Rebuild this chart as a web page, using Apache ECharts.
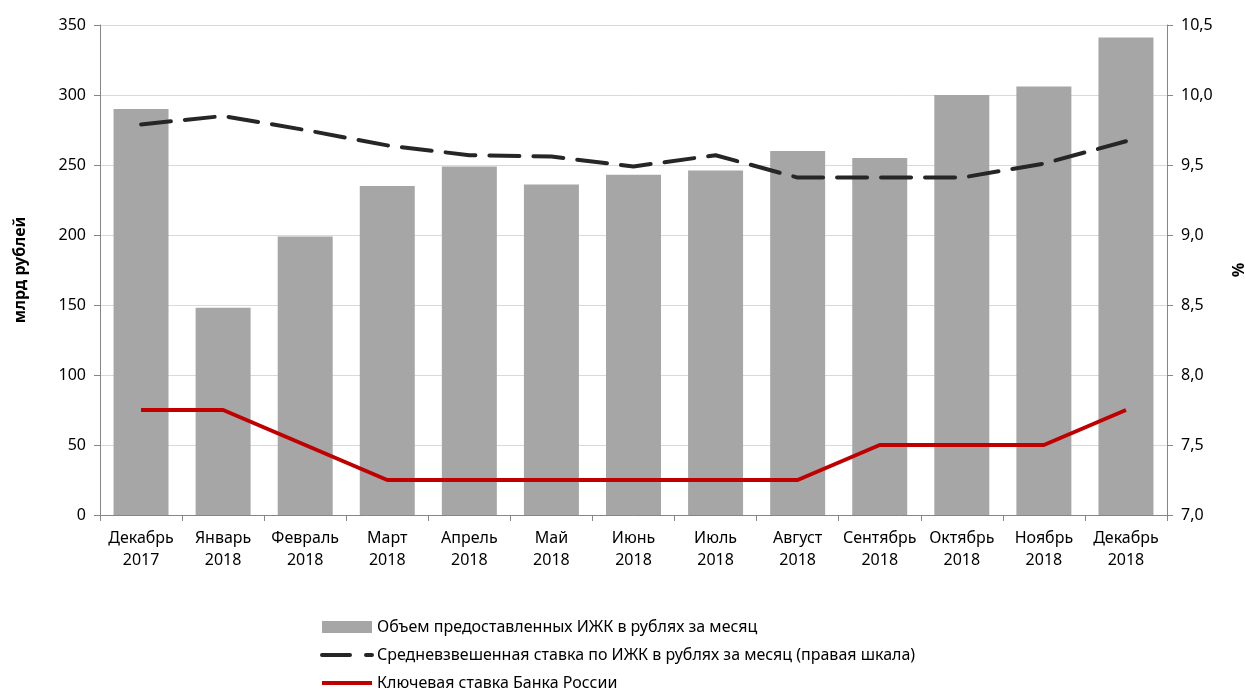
<!DOCTYPE html>
<html>
<head>
<meta charset="utf-8">
<script src="https://cdn.jsdelivr.net/npm/echarts@6/dist/echarts.min.js"></script>
<style>
  html, body { margin: 0; padding: 0; background: #fff; }
  #chart { width: 1245px; height: 689px; }
</style>
</head>
<body>
<div id="chart"></div>
<script>
// месяцы
const months = ['Декабрь\n2017', 'Январь\n2018', 'Февраль\n2018', 'Март\n2018', 'Апрель\n2018', 'Май\n2018',
  'Июнь\n2018', 'Июль\n2018', 'Август\n2018', 'Сентябрь\n2018', 'Октябрь\n2018', 'Ноябрь\n2018', 'Декабрь\n2018']
// объем ИЖК, млрд рублей
const volume = [290, 148, 199, 235, 249, 236, 243, 246, 260, 255, 300, 306, 341]
// средневзвешенная ставка, %
const avgRate = [9.79, 9.85, 9.75, 9.64, 9.57, 9.56, 9.49, 9.57, 9.41, 9.41, 9.41, 9.51, 9.67]
// ключевая ставка, %
const keyRate = [7.75, 7.75, 7.5, 7.25, 7.25, 7.25, 7.25, 7.25, 7.25, 7.5, 7.5, 7.5, 7.75]

const names = [
  'Объем предоставленных ИЖК в рублях за месяц',
  'Средневзвешенная ставка по ИЖК в рублях за месяц (правая шкала)',
  'Ключевая ставка Банка России',
]

const font = 'Noto Sans'
// прячем кружок маркера в легенде у линий
const noMarker = { color: 'rgba(0,0,0,0)', borderWidth: 0 }

const chart = echarts.init(document.getElementById('chart'))
chart.setOption({
  animation: false,
  textStyle: { fontFamily: font },
  grid: { left: 100, right: 78, top: 25, bottom: 174, outerBoundsMode: 'none', containLabel: false },
  legend: {
    orient: 'vertical',
    left: 320,
    top: 617,
    height: 100,
    padding: 0,
    itemWidth: 50,
    itemHeight: 12,
    itemGap: 8,
    textStyle: { fontFamily: font, fontSize: 16, color: '#000', lineHeight: 20 },
    data: [
      { name: names[0], icon: 'rect' },
      { name: names[1], itemStyle: noMarker, lineStyle: { width: 4, type: [28, 16], cap: 'round' } },
      { name: names[2], itemStyle: noMarker, lineStyle: { width: 4 } },
    ],
  },
  xAxis: {
    type: 'category',
    data: months,
    boundaryGap: true,
    axisLine: { lineStyle: { color: '#868686', width: 1 } },
    axisTick: { show: true, length: 6, lineStyle: { color: '#868686' } },
    axisLabel: { fontSize: 16, color: '#000', lineHeight: 22, margin: 12, interval: 0 },
  },
  yAxis: [
    {
      type: 'value',
      min: 0,
      max: 350,
      interval: 50,
      name: 'млрд рублей',
      nameLocation: 'middle',
      nameGap: 72,
      nameTextStyle: { fontWeight: 'bold', fontSize: 16, color: '#000' },
      axisLine: { show: true, lineStyle: { color: '#868686' } },
      axisTick: { show: true, length: 6, lineStyle: { color: '#868686' } },
      axisLabel: { fontSize: 16, color: '#000', margin: 14 },
      splitLine: { lineStyle: { color: '#d9d9d9', width: 1 } },
    },
    {
      type: 'value',
      min: 7,
      max: 10.5,
      interval: 0.5,
      name: '%',
      nameLocation: 'middle',
      nameGap: 62,
      nameRotate: -90,
      nameTextStyle: { fontWeight: 'bold', fontSize: 16, color: '#000' },
      axisLine: { show: true, lineStyle: { color: '#868686' } },
      axisTick: { show: true, length: 6, lineStyle: { color: '#868686' } },
      axisLabel: {
        fontSize: 16,
        color: '#000',
        margin: 14,
        formatter: (v) => v.toFixed(1).replace('.', ','),
      },
      splitLine: { show: false },
    },
  ],
  series: [
    {
      name: names[0],
      type: 'bar',
      data: volume,
      barCategoryGap: '33%',
      itemStyle: { color: '#a6a6a6' },
    },
    {
      name: names[1],
      type: 'line',
      yAxisIndex: 1,
      data: avgRate,
      symbol: 'none',
      lineStyle: { color: '#262626', width: 4, type: [30, 14], cap: 'round' },
      itemStyle: { color: '#262626' },
    },
    {
      name: names[2],
      type: 'line',
      yAxisIndex: 1,
      data: keyRate,
      symbol: 'none',
      lineStyle: { color: '#c00000', width: 4 },
      itemStyle: { color: '#c00000' },
    },
  ],
})
</script>
</body>
</html>
